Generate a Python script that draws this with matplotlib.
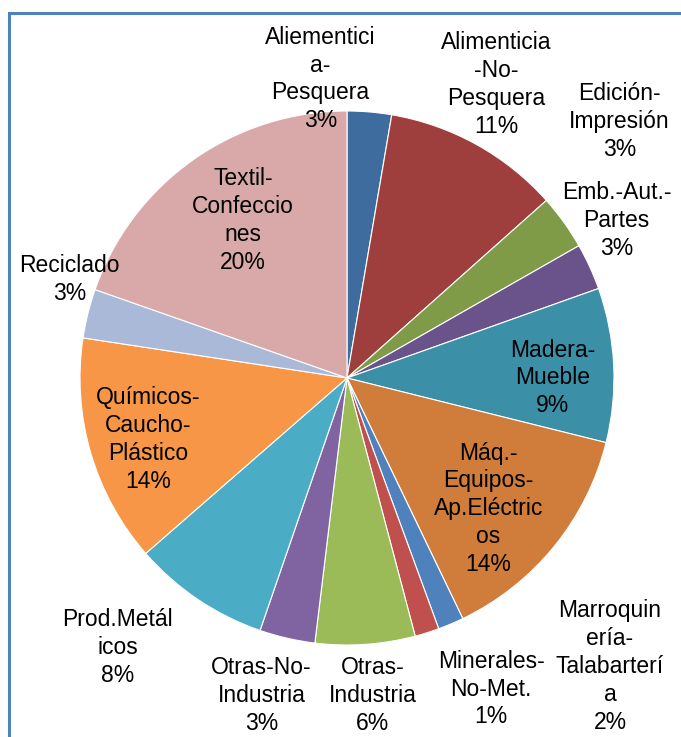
import matplotlib.pyplot as plt
from matplotlib.patches import Rectangle

plt.rcParams['font.family'] = ['Liberation Sans', 'DejaVu Sans']

# sector names as wrapped in the chart
names = ["Aliementici\na-\nPesquera", "Alimenticia\n-No-\nPesquera", "Edición-\nImpresión",
         "Emb.-Aut.-\nPartes", "Madera-\nMueble", "Máq.-\nEquipos-\nAp.Eléctric\nos",
         "Marroquin\nería-\nTalabarterí\na", "Minerales-\nNo-Met.", "Otras-\nIndustria",
         "Otras-No-\nIndustria", "Prod.Metál\nicos", "Químicos-\nCaucho-\nPlástico",
         "Reciclado", "Textil-\nConfeccio\nnes"]
share = [2.68, 10.74, 3.33, 2.81, 9.33, 13.97, 1.56, 1.47, 6.03, 3.36, 8.31, 13.81, 2.97, 19.63]

colors = ['#3E6C9F', '#9E3F3D', '#7F9B48', '#6A528A', '#3B90A8', '#D07C3A', '#4F81BD',
          '#C0504D', '#9BBB59', '#8064A2', '#4BACC6', '#F79646', '#AAB9D8', '#D9A9A9']

# label centres in pie-radius units (layout only)
label_pos = [(-0.10, 1.12), (0.56, 1.10), (1.02, 0.96), (1.01, 0.59), (0.77, 0.0),
             (0.53, -0.49), (0.985, -1.08), (0.54, -1.165), (0.097, -1.19), (-0.32, -1.19),
             (-0.86, -1.01), (-0.745, -0.23), (-1.04, 0.37), (-0.39, 0.59)]

W, H = 681, 737
cx, cy, R = 347, 378, 267

fig = plt.figure(figsize=(W / 100, H / 100), dpi=100)
ax = fig.add_axes([0, 0, 1, 1])
ax.pie(share, colors=colors, startangle=90, counterclock=False, radius=1,
       wedgeprops=dict(edgecolor='white', linewidth=0.8))
ax.set_aspect('auto')
ax.set_xlim(-cx / R, (W - cx) / R)
ax.set_ylim(-(H - cy) / R, cy / R)
ax.axis('off')

for name, v, (x, y) in zip(names, share, label_pos):
    ax.text(x, y, f"{name}\n{round(v)}%", ha='center', va='center', fontsize=16.5,
            linespacing=1.27, color='black')

# blue chart frame
fig.patches.append(Rectangle((9 / W, -0.2), 1.2, 1.2 - 13 / H, transform=fig.transFigure,
                             fill=False, edgecolor='#4F81BD', linewidth=2.2))

plt.savefig('out.png', dpi=100)
